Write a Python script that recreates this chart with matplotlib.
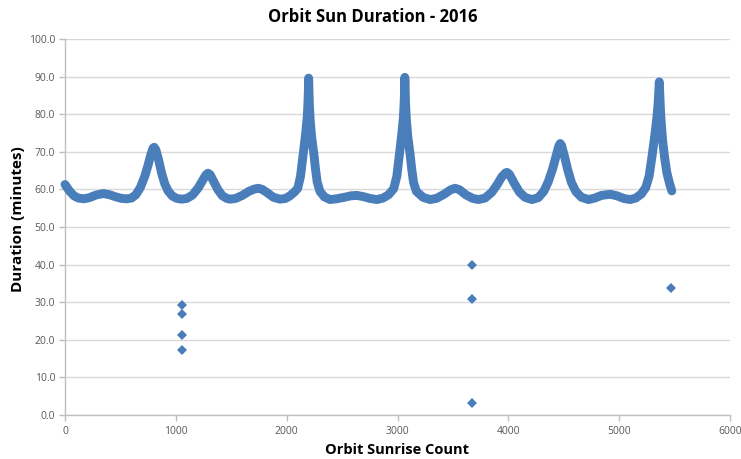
import matplotlib
matplotlib.use("Agg")
import matplotlib.pyplot as plt
from matplotlib.ticker import MultipleLocator, FormatStrFormatter

# ---- data ----
orbit_count = [0, 40, 80, 120, 170, 220, 280, 346, 400, 460, 510, 557, 600, 640, 680, 720, 750, 775, 795, 805,
               820, 845, 870, 900, 930, 970, 1010, 1053, 1100, 1150, 1200, 1240, 1270, 1290, 1310, 1340, 1380,
               1420, 1460, 1489, 1540, 1600, 1660, 1710, 1745, 1780, 1830, 1880, 1940, 1990, 2030, 2070, 2100,
               2125, 2148, 2170, 2185, 2192, 2196, 2198, 2201, 2205, 2212, 2225, 2245, 2260, 2275, 2300, 2340,
               2392, 2450, 2520, 2580, 2632, 2690, 2750, 2813, 2870, 2920, 2966, 2994, 3016, 3038, 3053, 3060,
               3064, 3066, 3069, 3073, 3080, 3093, 3113, 3128, 3145, 3170, 3230, 3294, 3350, 3420, 3480, 3520,
               3560, 3620, 3680, 3730, 3790, 3850, 3900, 3940, 3975, 3990, 4010, 4050, 4100, 4150, 4212, 4270,
               4320, 4360, 4400, 4430, 4455, 4468, 4480, 4505, 4535, 4570, 4610, 4660, 4723, 4780, 4840, 4919,
               4980, 5040, 5099, 5150, 5200, 5240, 5270, 5295, 5320, 5340, 5352, 5358, 5362, 5366, 5372, 5380,
               5392, 5410, 5430, 5455, 5475]
duration = [61.3, 59.6, 58.3, 57.7, 57.5, 57.8, 58.5, 58.9, 58.6, 58.0, 57.6, 57.5, 57.7, 58.6, 60.5, 63.5, 66.5,
            69.3, 71.0, 71.2, 70.5, 67.8, 64.5, 61.5, 59.6, 58.2, 57.6, 57.4, 57.6, 58.5, 60.3, 62.3, 63.8, 64.3,
            63.9, 62.2, 59.9, 58.3, 57.6, 57.4, 57.6, 58.4, 59.5, 60.1, 60.3, 60.0, 59.0, 57.9, 57.4, 57.6, 58.3,
            59.3, 60.3, 63.5, 69.0, 74.5, 79.0, 83.0, 86.5, 89.6, 86.5, 82.5, 78.5, 74.0, 69.5, 65.5, 62.0, 59.5,
            58.0, 57.3, 57.5, 57.9, 58.3, 58.4, 58.1, 57.6, 57.3, 57.7, 58.6, 60.2, 63.5, 69.0, 74.5, 79.0, 83.0,
            86.5, 89.8, 86.5, 82.5, 78.5, 74.0, 69.5, 65.5, 61.8, 59.5, 57.9, 57.3, 57.6, 58.7, 59.9, 60.3, 59.9,
            58.5, 57.6, 57.3, 57.7, 59.2, 61.3, 63.3, 64.4, 64.5, 64.0, 61.8, 59.3, 57.9, 57.3, 57.8, 59.5, 62.0,
            65.5, 68.8, 71.5, 72.2, 71.7, 69.0, 65.3, 61.8, 59.4, 57.9, 57.3, 57.7, 58.4, 58.7, 58.3, 57.6, 57.3,
            57.7, 58.8, 60.5, 63.5, 68.5, 74.0, 79.0, 83.0, 86.5, 88.6, 85.5, 81.5, 77.5, 73.0, 68.5, 64.5, 61.5,
            59.6]

outlier_count = [1053, 1053, 1053, 1053, 3676, 3676, 3676, 5472]
outlier_duration = [29.3, 26.8, 21.4, 17.4, 39.9, 30.8, 3.1, 33.9]

title = "Orbit Sun Duration - 2016"
x_label = "Orbit Sunrise Count"
y_label = "Duration (minutes)"

# ---- styling ----
BLUE = "#4A7EBB"
GRID = "#D9D9D9"
AXIS = "#BFBFBF"
TICK_TXT = "#595959"
plt.rcParams['font.family'] = ['Open Sans', 'DejaVu Sans']

fig = plt.figure(figsize=(7.41, 4.59), dpi=100)
ax = fig.add_axes([65 / 741, 1 - 415 / 459, (730 - 65) / 741, (415 - 39) / 459])

ax.plot(orbit_count, duration, '-', color=BLUE, lw=6.4, solid_joinstyle='round',
        solid_capstyle='round', clip_on=False, zorder=3)
ax.plot(orbit_count, duration, 'D', color=BLUE, ms=4.5, mew=0, ls='none', clip_on=False, zorder=3)
ax.plot(outlier_count, outlier_duration, 'D', color=BLUE, ms=5.2, mew=0, ls='none',
        clip_on=False, zorder=3)

ax.set_xlim(0, 6000)
ax.set_ylim(0, 100)
ax.xaxis.set_major_locator(MultipleLocator(1000))
ax.yaxis.set_major_locator(MultipleLocator(10))
ax.yaxis.set_major_formatter(FormatStrFormatter('%.1f'))

ax.grid(axis='y', color=GRID, lw=1.0)
ax.set_axisbelow(True)
for s in ['top', 'right']:
    ax.spines[s].set_visible(False)
for s in ['left', 'bottom']:
    ax.spines[s].set_color(AXIS)
    ax.spines[s].set_linewidth(1.0)
ax.tick_params(axis='both', colors=AXIS, labelcolor=TICK_TXT, labelsize=7.5, length=4, width=1.0)
ax.tick_params(axis='y', pad=3)
ax.tick_params(axis='x', pad=4)

fig.text(373 / 741, 1 - 17 / 459, title, ha='center', va='center', fontsize=12,
         fontweight='bold', color='black')
fig.text(397 / 741, 1 - 450 / 459, x_label, ha='center', va='center', fontsize=10.5,
         fontweight='bold', color='black')
fig.text(18 / 741, 1 - 219 / 459, y_label, ha='center', va='center', fontsize=11,
         fontweight='bold', color='black', rotation=90)

fig.savefig("out.png", dpi=100)
